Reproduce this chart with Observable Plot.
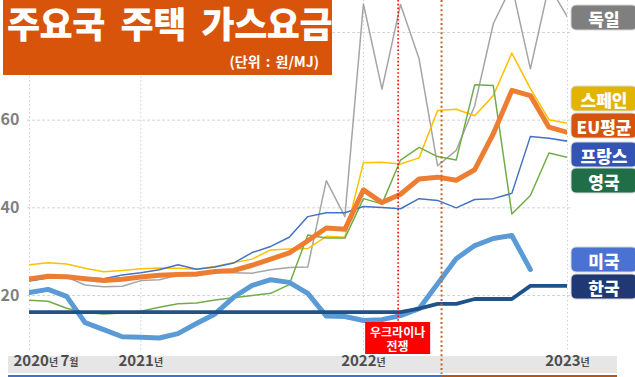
<!DOCTYPE html>
<html><head><meta charset="utf-8">
<script src="https://cdn.jsdelivr.net/npm/d3@7"></script>
<script src="https://cdn.jsdelivr.net/npm/@observablehq/plot@0.6"></script>
<style>
html,body{margin:0;padding:0;background:#fff;}
#wrap{position:relative;width:635px;height:377px;overflow:hidden;font-family:"Noto Sans CJK KR","Noto Sans",sans-serif;}
#title{position:absolute;left:3px;top:0;width:329px;height:75px;background:#D9540B;color:#fff;}
#title .t{position:absolute;left:4px;top:3px;line-height:38px;font-size:36px;font-weight:900;letter-spacing:-0.5px;word-spacing:8px;white-space:nowrap;}
#title .s{position:absolute;right:13px;top:53px;line-height:16px;font-size:14px;font-weight:700;word-spacing:2px;white-space:nowrap;}
</style></head>
<body>
<div id="wrap"><div id="chart"></div>
<div id="title"><div class="t">주요국 주택 가스요금</div><div class="s">(단위 : 원/MJ)</div></div>
</div>
<script>
// ---- data (원/MJ), monthly from 2020-07 ----
const months = ["2020-07","2020-08","2020-09","2020-10","2020-11","2020-12",
  "2021-01","2021-02","2021-03","2021-04","2021-05","2021-06","2021-07","2021-08","2021-09","2021-10","2021-11","2021-12",
  "2022-01","2022-02","2022-03","2022-04","2022-05","2022-06","2022-07","2022-08","2022-09","2022-10","2022-11","2022-12"];
const germany = [23.6,24.5,24.2,22.4,22.0,22.1,23.4,23.6,24.6,24.5,25.3,25.2,25.1,25.9,26.4,26.5,46.2,38.0,86.5,67.1,86.4,74.0,49.6,53.1,63.3,82.0,90.7,71.7,90.7,83.5];
const spain   = [27.0,27.5,27.2,26.2,25.4,25.7,26.1,26.3,26.2,26.0,26.6,27.5,28.3,30.4,30.6,30.7,33.5,33.3,50.3,50.4,50.0,51.4,62.2,62.5,61.0,65.6,75.3,67.2,60.1,59.3];
const euAvg   = [23.8,24.4,24.3,23.8,23.4,23.7,24.2,24.6,24.8,24.9,25.5,25.7,26.9,28.3,29.7,32.5,35.4,35.1,44.1,41.2,43.1,46.6,47.0,46.3,48.7,56.9,66.8,65.6,58.4,57.2];
const france  = [23.3,24.0,24.0,24.1,23.8,24.7,25.2,25.9,27.0,26.0,26.5,27.4,29.8,31.2,33.3,38.0,38.9,38.9,40.3,40.1,39.8,42.1,41.7,40.0,41.9,42.1,43.3,56.3,55.9,55.2];
const uk      = [18.9,18.7,17.1,16.1,15.8,16.0,16.4,17.3,18.1,18.3,19.0,19.5,20.0,20.5,22.5,33.8,33.1,33.1,42.1,40.9,50.9,53.8,51.7,50.9,68.1,67.9,38.6,42.8,52.5,51.5];
const usa     = [20.7,21.4,19.8,13.8,12.2,10.6,10.5,10.3,11.3,13.6,15.8,19.6,22.3,23.6,23.0,20.5,15.3,15.2,14.3,14.5,15.4,17.0,22.7,28.4,31.4,33.0,33.7,25.9];
const korea   = [16.2,16.2,16.2,16.2,16.2,16.2,16.2,16.2,16.2,16.2,16.2,16.2,16.2,16.2,16.2,16.2,16.2,16.2,16.2,16.2,16.2,17.0,18.1,18.1,19.2,19.2,19.2,22.2,22.2,22.2];
const seriesNames = ["독일","스페인","EU평균","프랑스","영국","미국","한국"];
const yTicks = [20, 40, 60, 80];
const yLabels = [20, 40, 60];
const xTickMonths = ["2020-07","2021-01","2022-01","2022-12"];
const xTickLabels = ["2020년 7월","2021년","2022년","2023년"];
const warMonth = 19.87;      // 우크라이나 전쟁 (month index)
const govMonth = 22.21;      // colour change of the bottom bar (month index)
const warLabel = ["우크라이나","전쟁"];

// ---- styles ----
const style = {
  "독일":   {line:"#A5A5A5", w:1.5, box:"#7F7F7F"},
  "스페인": {line:"#FFC000", w:1.5, box:"#E2B400"},
  "EU평균": {line:"#ED7D31", w:5,   box:"#D4530D"},
  "프랑스": {line:"#4472C4", w:1.5, box:"#3454B4"},
  "영국":   {line:"#70AD47", w:1.5, box:"#1F6E47"},
  "미국":   {line:"#5B9BD5", w:5,   box:"#4A72D2"},
  "한국":   {line:"#1F5289", w:3.8, box:"#203874"}
};
const values = {"독일":germany,"스페인":spain,"EU평균":euAvg,"프랑스":france,"영국":uk,"미국":usa,"한국":korea};
const drawOrder = ["독일","스페인","영국","프랑스","EU평균","미국","한국"];
const legendY = {"독일":5,"스페인":86,"EU평균":113,"프랑스":142,"영국":168,"미국":247,"한국":274};

const mi = m => months.indexOf(m);
const numFont = '"Liberation Sans Narrow","Arial Narrow","Noto Sans CJK KR",sans-serif';

const lineMarks = drawOrder.map(n => {
  const vals = values[n];
  return Plot.line(vals.map((v, i) => i), {
    x: i => i, y: i => vals[i],
    stroke: style[n].line, strokeWidth: style[n].w,
    strokeLinejoin: "round", strokeLinecap: "round",
    clip: true
  });
});

const xl = xTickMonths.map((m, k) => ({i: mi(m), label: xTickLabels[k]}));

const chart = Plot.plot({
  width: 635, height: 377,
  marginTop: 0, marginBottom: 25, marginLeft: 29, marginRight: 68,
  x: {domain: [0, 29], axis: null},
  y: {domain: [7, 87.3], axis: null},
  style: {background: "transparent", overflow: "visible"},
  marks: [
    Plot.ruleY(yTicks, {x1: -0.1, x2: 29.25, stroke: "#D3D3D3", strokeDasharray: "3,2", strokeWidth: 1}),
    Plot.ruleX(xl.map(d => d.i), {stroke: "#CFCFCF", strokeDasharray: "1.5,2.5", strokeWidth: 1}),
    ...lineMarks,
    Plot.ruleX([warMonth], {stroke: "#FF0000", strokeDasharray: "1.6,2.2", strokeWidth: 1.6}),
    Plot.ruleX([govMonth], {stroke: "#C0662A", strokeDasharray: "2,2.6", strokeWidth: 2, insetBottom: -22}),
    Plot.text(yLabels, {y: d => d, frameAnchor: "left", dx: -10, textAnchor: "end",
      text: d => String(d), fontSize: 16, fontWeight: "bold", fill: "#7F7F7F", fontFamily: numFont}),
    Plot.text(xl.slice(0, 1), {x: "i", text: "label", frameAnchor: "bottom", dy: 13, textAnchor: "start", dx: -16,
      fontSize: 15, fontWeight: "bold", fill: "#4D4D4D", fontFamily: numFont}),
    Plot.text(xl.slice(1), {x: "i", text: "label", frameAnchor: "bottom", dy: 13, textAnchor: "middle",
      fontSize: 15, fontWeight: "bold", fill: "#4D4D4D", fontFamily: numFont})
  ]
});
document.getElementById("chart").appendChild(chart);

const svg = d3.select(chart);
const xs = chart.scale("x");
const gx = xs.apply(govMonth), wx = xs.apply(warMonth);

// x-axis band
svg.insert("rect", ":first-child").attr("x", 8).attr("y", 356).attr("width", 609).attr("height", 17).attr("fill", "#E6E6E6");
svg.insert("rect", ":first-child").attr("x", 0).attr("y", 0).attr("width", 635).attr("height", 377).attr("fill", "#FFFFFF");
svg.append("line").attr("x1", 8).attr("x2", gx).attr("y1", 376).attr("y2", 376).attr("stroke", "#4472C4").attr("stroke-width", 2);
svg.append("line").attr("x1", gx).attr("x2", 617).attr("y1", 376).attr("y2", 376).attr("stroke", "#B5561B").attr("stroke-width", 2);

// small unit characters in the x labels
svg.selectAll("text").each(function () {
  const t = this.textContent;
  if (!/[년월]/.test(t)) return;
  const el = d3.select(this);
  el.text(null);
  t.split(/([0-9]+)/).filter(s => s.length).forEach(s => {
    el.append("tspan").attr("font-size", /[0-9]/.test(s) ? 15 : 10).text(s);
  });
});

// war label (one text element, two lines)
const wg = svg.append("g");
wg.append("rect").attr("x", wx - 32.5).attr("y", 322).attr("width", 65).attr("height", 32).attr("fill", "#FF0000");
const wt = wg.append("text").attr("text-anchor", "middle").attr("fill", "#fff").attr("font-size", 12)
  .attr("font-weight", "bold").attr("font-family", '"Noto Sans CJK KR",sans-serif');
warLabel.forEach((s, k) => {
  wt.append("tspan").attr("x", wx).attr("y", 337 + k * 13.5).text(s);
});

// legend boxes
seriesNames.forEach(n => {
  const g = svg.append("g");
  g.append("rect").attr("x", 571).attr("y", legendY[n]).attr("width", 66).attr("height", 25).attr("rx", 5)
    .attr("fill", style[n].box).attr("stroke", "#D8D8D8").attr("stroke-width", 1);
  g.append("text").attr("x", 604).attr("y", legendY[n] + 13).attr("text-anchor", "middle").attr("dominant-baseline", "central")
    .attr("fill", "#fff").attr("font-size", 17).attr("font-weight", 900)
    .attr("font-family", '"Noto Sans CJK KR",sans-serif').text(n);
});
</script>
</body></html>
